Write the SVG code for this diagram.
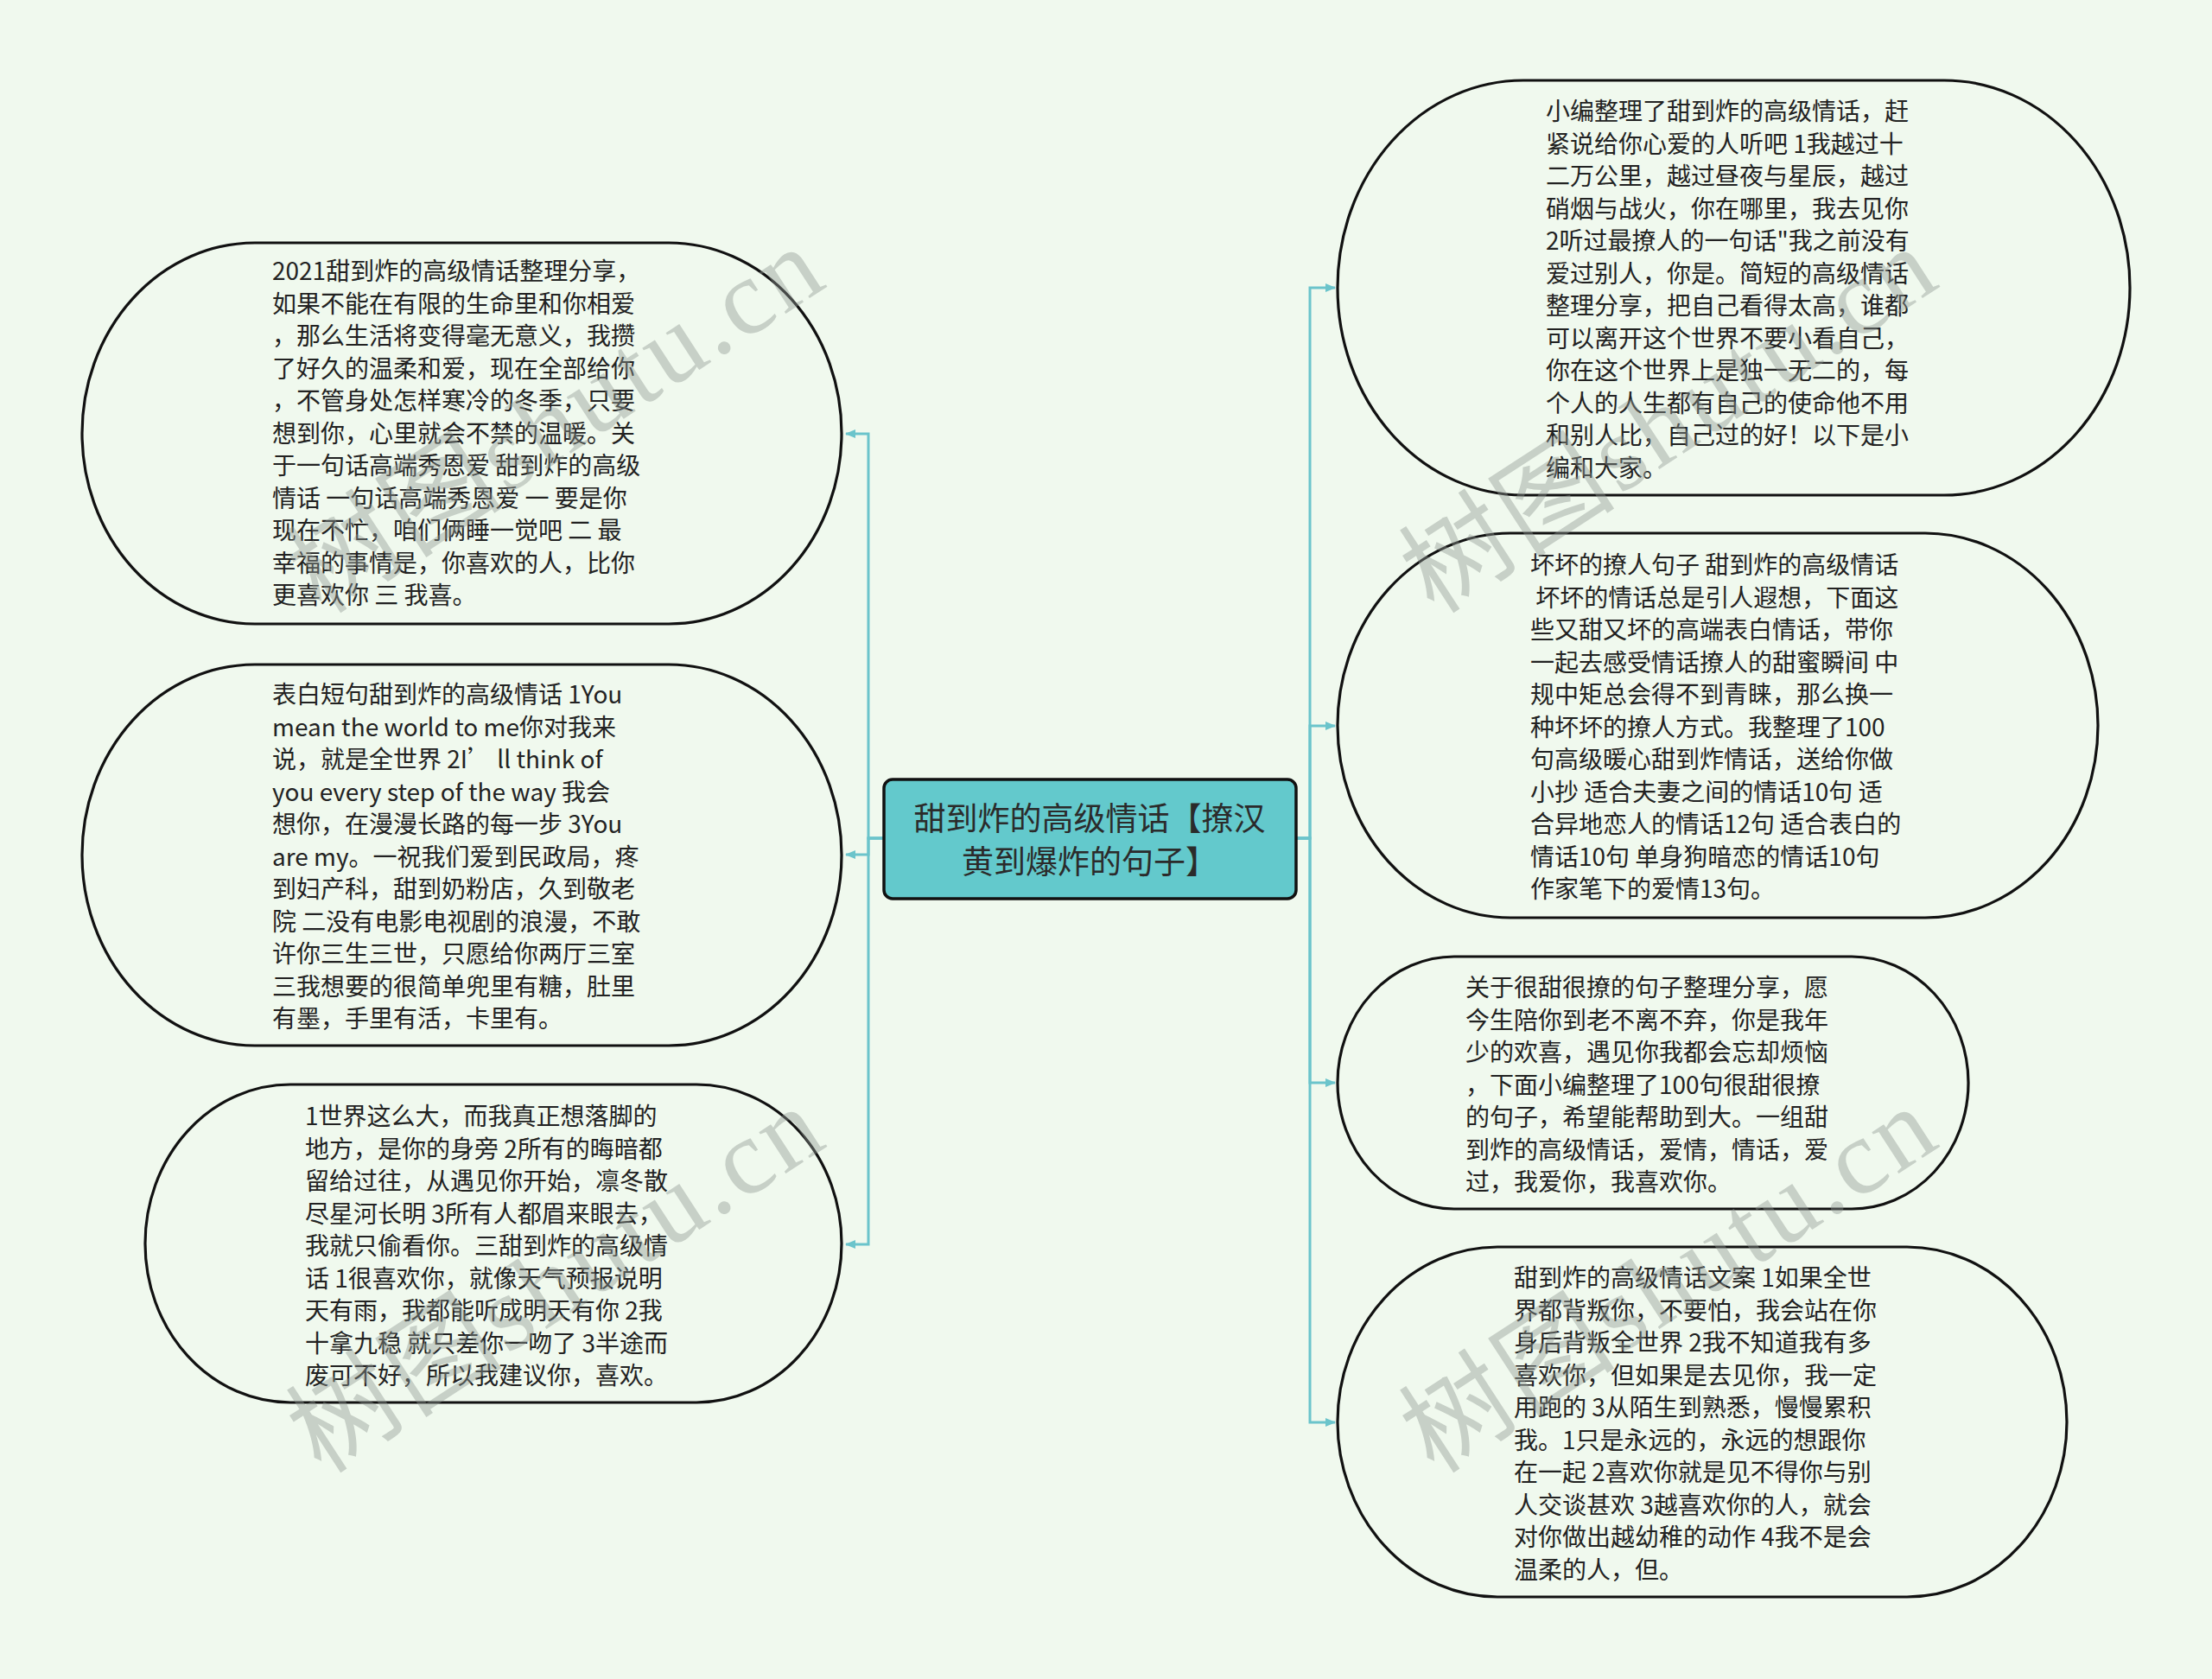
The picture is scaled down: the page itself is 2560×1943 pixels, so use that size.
<svg xmlns="http://www.w3.org/2000/svg" width="2560" height="1943" viewBox="0 0 2560 1943">
<defs>
<style>
.bg{fill:#F0F9EE}
.node{fill:#F0F9EE;stroke:#111;stroke-width:3.2}
.root{fill:#63C9CC;stroke:#111;stroke-width:3.5}
.t{font-family:"Noto Sans CJK SC","Noto Sans",sans-serif;font-size:28px;fill:#222}
.rt{font-family:"Noto Sans CJK SC","Noto Sans",sans-serif;font-size:37px;fill:#2b2b2b;text-anchor:middle}
.conn{fill:none;stroke:#6BC4CB;stroke-width:3}
.wm{font-family:"Liberation Serif","Noto Sans CJK SC",serif;font-size:124px;fill:#8f9892;opacity:0.42}
</style>
<marker id="arr" viewBox="0 0 12 10" refX="11" refY="5" markerWidth="12" markerHeight="10" markerUnits="userSpaceOnUse" orient="auto">
<path d="M0,0 L12,5 L0,10 Z" fill="#6BC4CB"/>
</marker>
</defs>
<rect class="bg" x="0" y="0" width="2560" height="1943"/>

<g id="connectors">
<path class="conn" d="M1023,970 H1005 V502 H979" marker-end="url(#arr)"/>
<path class="conn" d="M1023,970 H1005 V989 H979" marker-end="url(#arr)"/>
<path class="conn" d="M1023,970 H1005 V1440 H979" marker-end="url(#arr)"/>
<path class="conn" d="M1500,970 H1516 V333 H1545" marker-end="url(#arr)"/>
<path class="conn" d="M1500,970 H1516 V840 H1545" marker-end="url(#arr)"/>
<path class="conn" d="M1500,970 H1516 V1253 H1545" marker-end="url(#arr)"/>
<path class="conn" d="M1500,970 H1516 V1646 H1545" marker-end="url(#arr)"/>
</g>

<g id="root">
<rect class="root" x="1023" y="902" width="477" height="138" rx="10" ry="10"/>
<text class="rt" x="1261" y="961">甜到炸的高级情话【撩汉</text>
<text class="rt" x="1261" y="1011">黄到爆炸的句子】</text>
</g>

<g id="node-l1">
<rect class="node" x="95" y="281" width="879" height="441" rx="200" ry="220.5"/>
<text class="t" x="315" y="324">
<tspan x="315" dy="0">2021甜到炸的高级情话整理分享，</tspan>
<tspan x="315" dy="37.5">如果不能在有限的生命里和你相爱</tspan>
<tspan x="315" dy="37.5">，那么生活将变得毫无意义，我攒</tspan>
<tspan x="315" dy="37.5">了好久的温柔和爱，现在全部给你</tspan>
<tspan x="315" dy="37.5">，不管身处怎样寒冷的冬季，只要</tspan>
<tspan x="315" dy="37.5">想到你，心里就会不禁的温暖。关</tspan>
<tspan x="315" dy="37.5">于一句话高端秀恩爱 甜到炸的高级</tspan>
<tspan x="315" dy="37.5">情话 一句话高端秀恩爱 一 要是你</tspan>
<tspan x="315" dy="37.5">现在不忙，咱们俩睡一觉吧 二 最</tspan>
<tspan x="315" dy="37.5">幸福的事情是，你喜欢的人，比你</tspan>
<tspan x="315" dy="37.5">更喜欢你 三 我喜。</tspan>
</text>
</g>

<g id="node-l2">
<rect class="node" x="95" y="769" width="879" height="441" rx="200" ry="220.5"/>
<text class="t" x="315" y="814">
<tspan x="315" dy="0">表白短句甜到炸的高级情话 1You</tspan>
<tspan x="315" dy="37.5">mean the world to me你对我来</tspan>
<tspan x="315" dy="37.5">说，就是全世界 2I’ ll think of</tspan>
<tspan x="315" dy="37.5">you every step of the way 我会</tspan>
<tspan x="315" dy="37.5">想你，在漫漫长路的每一步 3You</tspan>
<tspan x="315" dy="37.5">are my。一祝我们爱到民政局，疼</tspan>
<tspan x="315" dy="37.5">到妇产科，甜到奶粉店，久到敬老</tspan>
<tspan x="315" dy="37.5">院 二没有电影电视剧的浪漫，不敢</tspan>
<tspan x="315" dy="37.5">许你三生三世，只愿给你两厅三室</tspan>
<tspan x="315" dy="37.5">三我想要的很简单兜里有糖，肚里</tspan>
<tspan x="315" dy="37.5">有墨，手里有活，卡里有。</tspan>
</text>
</g>

<g id="node-l3">
<rect class="node" x="168" y="1255" width="806" height="368" rx="168" ry="184"/>
<text class="t" x="353" y="1302">
<tspan x="353" dy="0">1世界这么大，而我真正想落脚的</tspan>
<tspan x="353" dy="37.5">地方，是你的身旁 2所有的晦暗都</tspan>
<tspan x="353" dy="37.5">留给过往，从遇见你开始，凛冬散</tspan>
<tspan x="353" dy="37.5">尽星河长明 3所有人都眉来眼去，</tspan>
<tspan x="353" dy="37.5">我就只偷看你。三甜到炸的高级情</tspan>
<tspan x="353" dy="37.5">话 1很喜欢你，就像天气预报说明</tspan>
<tspan x="353" dy="37.5">天有雨，我都能听成明天有你 2我</tspan>
<tspan x="353" dy="37.5">十拿九稳 就只差你一吻了 3半途而</tspan>
<tspan x="353" dy="37.5">废可不好，所以我建议你，喜欢。</tspan>
</text>
</g>

<g id="node-r1">
<rect class="node" x="1548" y="93" width="917" height="480" rx="215" ry="240"/>
<text class="t" x="1789" y="139">
<tspan x="1789" dy="0">小编整理了甜到炸的高级情话，赶</tspan>
<tspan x="1789" dy="37.5">紧说给你心爱的人听吧 1我越过十</tspan>
<tspan x="1789" dy="37.5">二万公里，越过昼夜与星辰，越过</tspan>
<tspan x="1789" dy="37.5">硝烟与战火，你在哪里，我去见你</tspan>
<tspan x="1789" dy="37.5">2听过最撩人的一句话"我之前没有</tspan>
<tspan x="1789" dy="37.5">爱过别人，你是。简短的高级情话</tspan>
<tspan x="1789" dy="37.5">整理分享，把自己看得太高，谁都</tspan>
<tspan x="1789" dy="37.5">可以离开这个世界不要小看自己，</tspan>
<tspan x="1789" dy="37.5">你在这个世界上是独一无二的，每</tspan>
<tspan x="1789" dy="37.5">个人的人生都有自己的使命他不用</tspan>
<tspan x="1789" dy="37.5">和别人比，自己过的好！以下是小</tspan>
<tspan x="1789" dy="37.5">编和大家。</tspan>
</text>
</g>

<g id="node-r2">
<rect class="node" x="1548" y="617" width="880" height="445" rx="200" ry="222.5"/>
<text class="t" x="1771" y="664" xml:space="preserve"><tspan x="1771" dy="0">坏坏的撩人句子 甜到炸的高级情话</tspan><tspan x="1771" dy="37.5"> 坏坏的情话总是引人遐想，下面这</tspan><tspan x="1771" dy="37.5">些又甜又坏的高端表白情话，带你</tspan><tspan x="1771" dy="37.5">一起去感受情话撩人的甜蜜瞬间 中</tspan><tspan x="1771" dy="37.5">规中矩总会得不到青睐，那么换一</tspan><tspan x="1771" dy="37.5">种坏坏的撩人方式。我整理了100</tspan><tspan x="1771" dy="37.5">句高级暖心甜到炸情话，送给你做</tspan><tspan x="1771" dy="37.5">小抄 适合夫妻之间的情话10句 适</tspan><tspan x="1771" dy="37.5">合异地恋人的情话12句 适合表白的</tspan><tspan x="1771" dy="37.5">情话10句 单身狗暗恋的情话10句</tspan><tspan x="1771" dy="37.5">作家笔下的爱情13句。</tspan></text>
</g>

<g id="node-r3">
<rect class="node" x="1548" y="1107" width="730" height="292" rx="135" ry="146"/>
<text class="t" x="1696" y="1153">
<tspan x="1696" dy="0">关于很甜很撩的句子整理分享，愿</tspan>
<tspan x="1696" dy="37.5">今生陪你到老不离不弃，你是我年</tspan>
<tspan x="1696" dy="37.5">少的欢喜，遇见你我都会忘却烦恼</tspan>
<tspan x="1696" dy="37.5">，下面小编整理了100句很甜很撩</tspan>
<tspan x="1696" dy="37.5">的句子，希望能帮助到大。一组甜</tspan>
<tspan x="1696" dy="37.5">到炸的高级情话，爱情，情话，爱</tspan>
<tspan x="1696" dy="37.5">过，我爱你，我喜欢你。</tspan>
</text>
</g>

<g id="node-r4">
<rect class="node" x="1548" y="1443" width="844" height="405" rx="185" ry="202.5"/>
<text class="t" x="1752" y="1489">
<tspan x="1752" dy="0">甜到炸的高级情话文案 1如果全世</tspan>
<tspan x="1752" dy="37.5">界都背叛你，不要怕，我会站在你</tspan>
<tspan x="1752" dy="37.5">身后背叛全世界 2我不知道我有多</tspan>
<tspan x="1752" dy="37.5">喜欢你，但如果是去见你，我一定</tspan>
<tspan x="1752" dy="37.5">用跑的 3从陌生到熟悉，慢慢累积</tspan>
<tspan x="1752" dy="37.5">我。1只是永远的，永远的想跟你</tspan>
<tspan x="1752" dy="37.5">在一起 2喜欢你就是见不得你与别</tspan>
<tspan x="1752" dy="37.5">人交谈甚欢 3越喜欢你的人，就会</tspan>
<tspan x="1752" dy="37.5">对你做出越幼稚的动作 4我不是会</tspan>
<tspan x="1752" dy="37.5">温柔的人，但。</tspan>
</text>
</g>

<g id="watermarks">
<text class="wm" transform="translate(372,712) rotate(-33)" textLength="700" lengthAdjust="spacing">树图shutu.cn</text>
<text class="wm" transform="translate(372,1707) rotate(-33)" textLength="700" lengthAdjust="spacing">树图shutu.cn</text>
<text class="wm" transform="translate(1660,712) rotate(-33)" textLength="700" lengthAdjust="spacing">树图shutu.cn</text>
<text class="wm" transform="translate(1660,1707) rotate(-33)" textLength="700" lengthAdjust="spacing">树图shutu.cn</text>
</g>
</svg>
